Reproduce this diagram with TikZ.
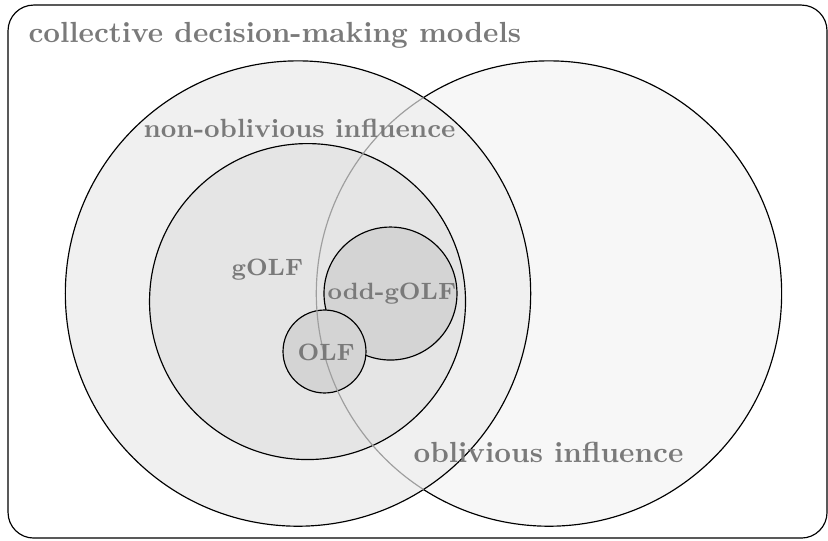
\documentclass[tikz,border=0pt]{standalone}
\usetikzlibrary{positioning}
\tikzset{
	setlabel/.style={text=black!52, font=\bfseries, inner sep=0pt, anchor=base west},
	smalllabel/.style={setlabel, font=\fontsize{9.05}{11}\selectfont\bfseries},
	innerlabel/.style={setlabel, font=\fontsize{8.1}{10}\selectfont\bfseries},
	bigset/.style={draw=black, line width=0.4pt},
}

\begin{document}
\begin{tikzpicture}
			%%%%% START %%%%%
			\useasboundingbox (0, 0) rectangle (10, 6.522);
			
			\draw[rounded corners=0.31cm] (0.097, 0.024) rectangle (9.988, 6.461);
			
			% oblivious influence
			\draw[bigset, fill=black!3] (6.630, 2.977) circle (2.81);
			
			% non-oblivious influence and the sets inside it
			\draw[bigset, fill=black!6] (3.599, 2.977) circle (2.81);
			\draw[bigset, fill=black!10] (3.714, 2.880) circle (1.908);
			\draw[bigset, fill=black!17] (4.716, 2.977) circle (0.803);
			\draw[bigset, fill=black!17] (3.919, 2.277) circle (0.501);
			
			\begin{scope}
				\clip (3.599, 2.977) circle (2.81);
				\draw[black!38] (6.630, 2.977) circle (2.81);
			\end{scope}
			
			\node[setlabel] (models) at (0.338, 6.014) {collective decision-making models};
			\node[smalllabel] (nonobl) at (1.727, 4.867) {non-oblivious influence};
			\node[setlabel] (obl) at (4.988, 0.942) {oblivious influence};
			\node[innerlabel] (golf) at (2.790, 3.200) {gOLF};
			\node[innerlabel] (oddgolf) at (3.949, 2.911) {odd-gOLF};
			\node[innerlabel] (olf) at (3.587, 2.174) {OLF};
			
			%%%%% END %%%%%
\end{tikzpicture}
\end{document}
